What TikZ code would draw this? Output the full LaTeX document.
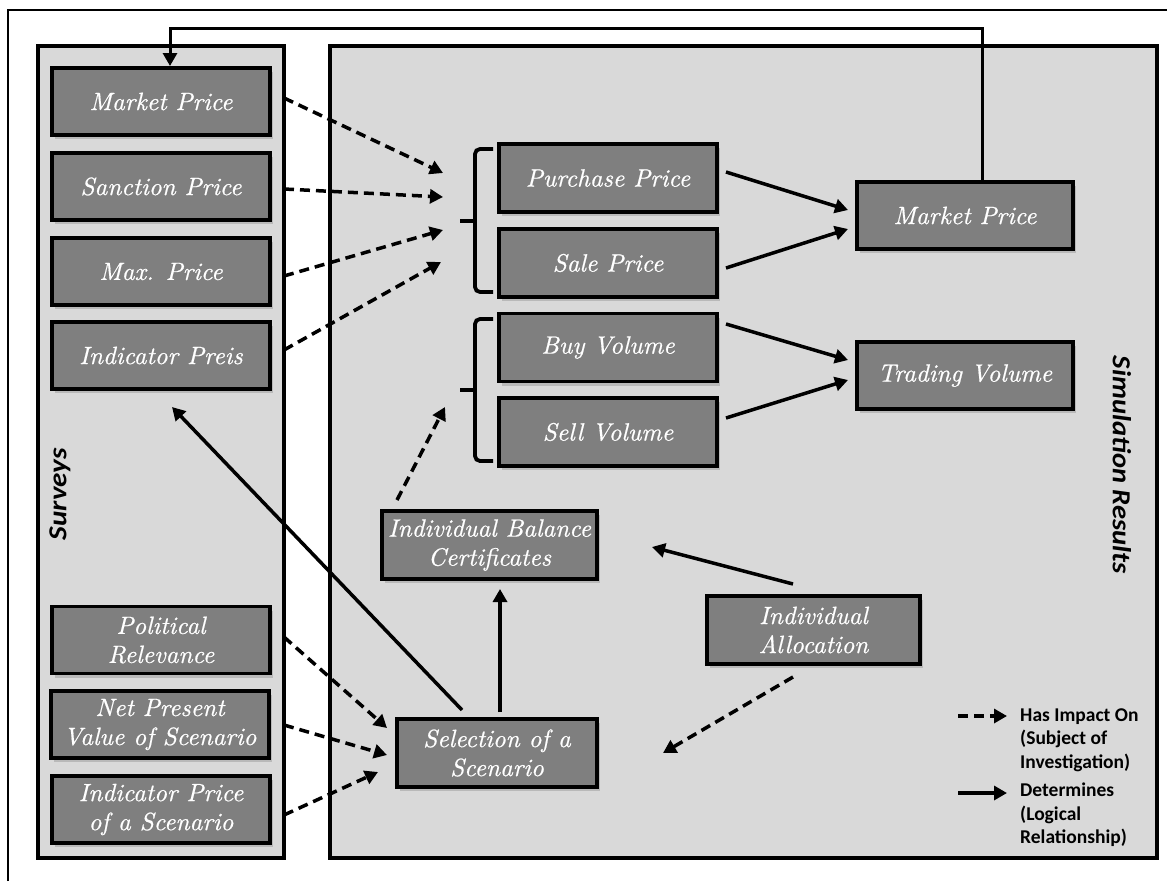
\documentclass[tikz,border=0pt]{standalone}
\usepackage{fontspec}
\newfontfamily\calib{Carlito}
\newfontfamily\boxfont{lmroman10-italic.otf}[FakeBold=0.6]
\usetikzlibrary{arrows.meta,shadows}
\definecolor{panelgray}{HTML}{D9D9D9}
\definecolor{boxgray}{HTML}{7F7F7F}
\begin{document}
\begin{tikzpicture}[x=1pt,y=-1pt,
  panel/.style={draw=black,line width=3.2pt,fill=panelgray},
  box/.style={draw=black,line width=3.5pt,fill=boxgray,text=white,
    font=\boxfont\fontsize{25}{29}\selectfont,align=center,inner sep=1pt,
    drop shadow={shadow xshift=3pt,shadow yshift=-4pt,opacity=0.35}},
  sbox/.style={box,minimum width=218pt,minimum height=67pt},
  imp/.style={line width=3.5pt,dash pattern=on 10pt off 6pt,
    -{Triangle[length=13pt,width=14pt]}},
  det/.style={line width=3.5pt,-{Triangle[length=13pt,width=14pt]}},
  bracket/.style={line width=3.8pt,rounded corners=5pt},
  title/.style={font=\calib\bfseries\itshape\fontsize{26}{30}\selectfont},
  legtext/.style={font=\calib\bfseries\fontsize{19.5}{23.5}\selectfont,
    align=left,anchor=west,inner sep=0pt}]
\useasboundingbox (0,0) rectangle (1167,881);
\fill[white] (0,0) rectangle (1167,881);

% outer frame
\draw[line width=2.8pt] (8,881) -- (8,10) -- (1167,10);

% panels
\draw[panel] (38,46) rectangle (284,858);
\draw[panel] (330,46) rectangle (1157,858);

\node[title,rotate=90] (surveys) at (60,494) {\scalebox{1.12}[1]{Surveys}};
\node[title,rotate=-90] (simres) at (1122,465) {\scalebox{1.1}[1]{Simulation Results}};

% survey items
\node[sbox] (mpS) at (161,101.5) {Market Price};
\node[sbox] (scS) at (161,186.5) {Sanction Price};
\node[sbox] (mxS) at (161,271.5) {Max. Price};
\node[sbox] (ipS) at (161,355.5) {Indicator Preis};
\node[sbox] (polS) at (161,640) {Political\\Relevance};
\node[sbox] (npvS) at (160,724.5) {Net Present\\Value of Scenario};
\node[sbox] (ipsS) at (161,809.5) {Indicator Price\\of a Scenario};

% simulation items
\node[sbox,minimum height=68pt] (pp) at (608,178) {Purchase Price};
\node[sbox,minimum height=68pt] (sp) at (608,263) {Sale Price};
\node[sbox,minimum height=68pt] (bv) at (608,347.5) {Buy Volume};
\node[sbox,minimum height=68pt] (sv) at (608,432) {Sell Volume};
\node[box,minimum width=216pt,minimum height=67pt] (mkt) at (965,215.5) {Market Price};
\node[box,minimum width=216pt,minimum height=67pt] (tv) at (965,375.5) {Trading Volume};
\node[box,minimum width=215pt,minimum height=68pt] (ibc) at (489.5,545) {Individual Balance\\Certificates};
\node[box,minimum width=200pt,minimum height=68pt] (sel) at (497,753) {Selection of a\\Scenario};
\node[box,minimum width=213pt,minimum height=68pt] (alloc) at (813.5,630) {Individual\\Allocation};

% brackets grouping prices and volumes
\draw[bracket] (493,149) -- (475,149) -- (475,292) -- (493,292);
\draw[bracket] (475,221) -- (460,221);
\draw[bracket] (493,319) -- (475,319) -- (475,461) -- (493,461);
\draw[bracket] (475,390) -- (460,390);

% arrow targets next to the brackets and boxes
\coordinate (pt1) at (443,173);
\coordinate (pt2) at (443,197);
\coordinate (pt3) at (443,230);
\coordinate (pt4) at (441,262);
\coordinate (vt) at (445,407);
\coordinate (st1) at (387,728);
\coordinate (st2) at (387,755);
\coordinate (st3) at (378,772);
\coordinate (selR) at (663,753);
\coordinate (ibcR) at (652,547);

% impacts on prices
\draw[imp] ([shift={(123,-3.5)}]mpS.center) -- (pt1);
\draw[imp] ([shift={(123,2.5)}]scS.center) -- (pt2);
\draw[imp] ([shift={(123,4.5)}]mxS.center) -- (pt3);
\draw[imp] ([shift={(123,-5.5)}]ipS.center) -- (pt4);

% impacts on scenario selection
\draw[imp] ([shift={(123,-3)}]polS.center) -- (st1);
\draw[imp] ([shift={(124,0.5)}]npvS.center) -- (st2);
\draw[imp] ([shift={(123,5.5)}]ipsS.center) -- (st3);
\draw[imp] ([shift={(-20.5,47)}]alloc.center) -- (selR);

% impact on volumes
\draw[imp] ([shift={(-92.5,-45)}]ibc.center) -- (vt);

% logical relationships
\draw[det] ([shift={(118,-6)}]pp.center) -- ([shift={(-117,-5.5)}]mkt.center);
\draw[det] ([shift={(118,5)}]sp.center) -- ([shift={(-117,13.5)}]mkt.center);
\draw[det] ([shift={(118,-23.5)}]bv.center) -- ([shift={(-117,-15.5)}]tv.center);
\draw[det] ([shift={(118,-14)}]sv.center) -- ([shift={(-117,4.5)}]tv.center);
\draw[det] ([shift={(-20.5,-46)}]alloc.center) -- (ibcR);
\draw[det] ([shift={(3,-41)}]sel.center) -- ([shift={(10.5,44)}]ibc.center);
\draw[det] ([shift={(-35,-43)}]sel.center) -- ([shift={(11,51.5)}]ipS.center);

% market price feeds back into the survey
\draw[det,line width=3pt] ([shift={(17,-33.5)}]mkt.center) |- ([shift={(9,-73.5)}]mpS.center) -- ([shift={(9,-35.5)}]mpS.center);

% legend
\coordinate (la1) at (958,716);
\coordinate (lb1) at (1007,716);
\coordinate (la2) at (958,793);
\coordinate (lb2) at (1007,793);
\draw[imp] (la1) -- (lb1);
\draw[det] (la2) -- (lb2);
\node[legtext] (leg1) at (1020,740) {Has Impact On\\(Subject of\\Investigation)};
\node[legtext] (leg2) at (1020,815) {Determines\\(Logical\\Relationship)};
\end{tikzpicture}
\end{document}
